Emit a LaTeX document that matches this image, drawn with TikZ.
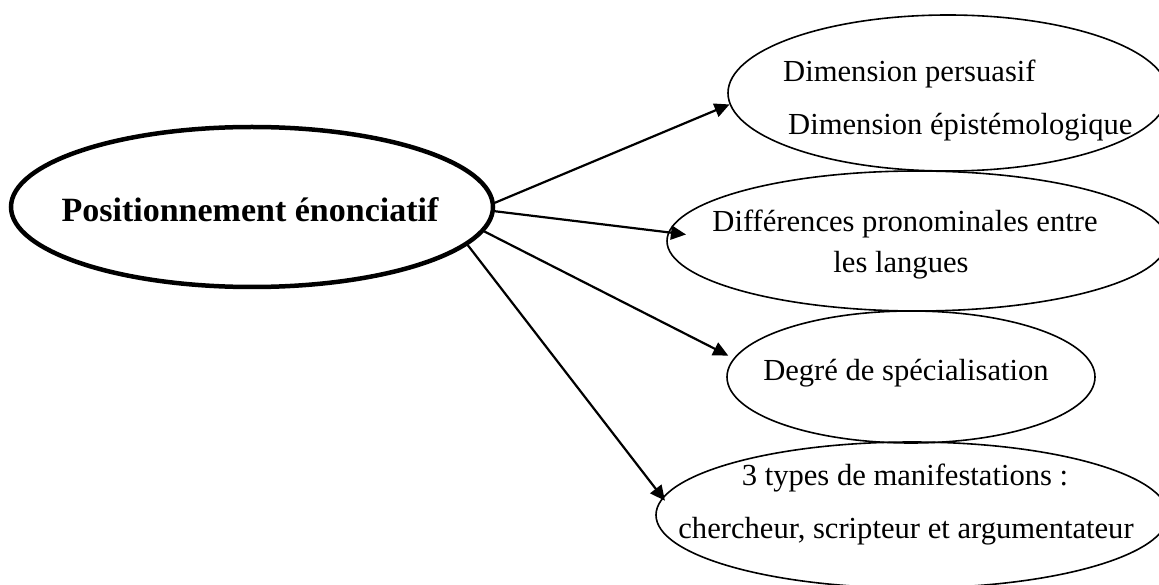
\documentclass[tikz,border=0pt]{standalone}
\usepackage{fontspec}
\setmainfont{Liberation Serif}
\usetikzlibrary{shapes.geometric,arrows.meta}
\begin{document}
\begin{tikzpicture}[x=1pt,y=-1pt,
    bubble/.style={draw, ellipse, line width=1.6pt, inner sep=0pt},
    txt/.style={anchor=base, inner sep=0pt, font=\fontsize{30.6}{36}\selectfont},
    link/.style={line width=2.2pt,->,>={Triangle[length=15pt,width=14pt]}}]
  \useasboundingbox (0,0) rectangle (1159,585);
  \node[bubble, line width=4.5pt, minimum width=482pt, minimum height=160pt] (pos) at (252,207) {};
  \node[bubble, minimum width=440pt, minimum height=156pt] (dim) at (948,93) {};
  \node[bubble, minimum width=500pt, minimum height=140pt] (pron) at (917,241) {};
  \node[bubble, minimum width=368pt, minimum height=132pt] (degre) at (911,377) {};
  \node[bubble, minimum width=512pt, minimum height=146pt] (types) at (912,515) {};

  \node[txt, font=\fontsize{34}{40}\selectfont\bfseries] (posT) at (250,222) {Positionnement énonciatif};
  \node[txt, anchor=base west] (dimA) at (783,82) {Dimension persuasif};
  \node[txt, anchor=base west] (dimB) at (788,135) {Dimension épistémologique};
  \node[txt] (pronA) at (905,232) {Différences pronominales entre};
  \node[txt] (pronB) at (901,273) {les langues};
  \node[txt] (degreT) at (906,380) {Degré de spécialisation};
  \node[txt] (typesA) at (905,485) {3 types de manifestations :};
  \node[txt] (typesB) at (906,538) {chercheur, scripteur et argumentateur};

  \draw[link] (pos.1.5) -- (dim.183.7);
  \draw[link, shorten >=-18pt] (pos.-1.5) -- (pron.178);
  \draw[link, shorten >=6pt] (pos.-6.85) -- (degre.174);
  \draw[link, shorten >=-4pt] (pos.-10.75) -- (types.176.5);
\end{tikzpicture}
\end{document}
